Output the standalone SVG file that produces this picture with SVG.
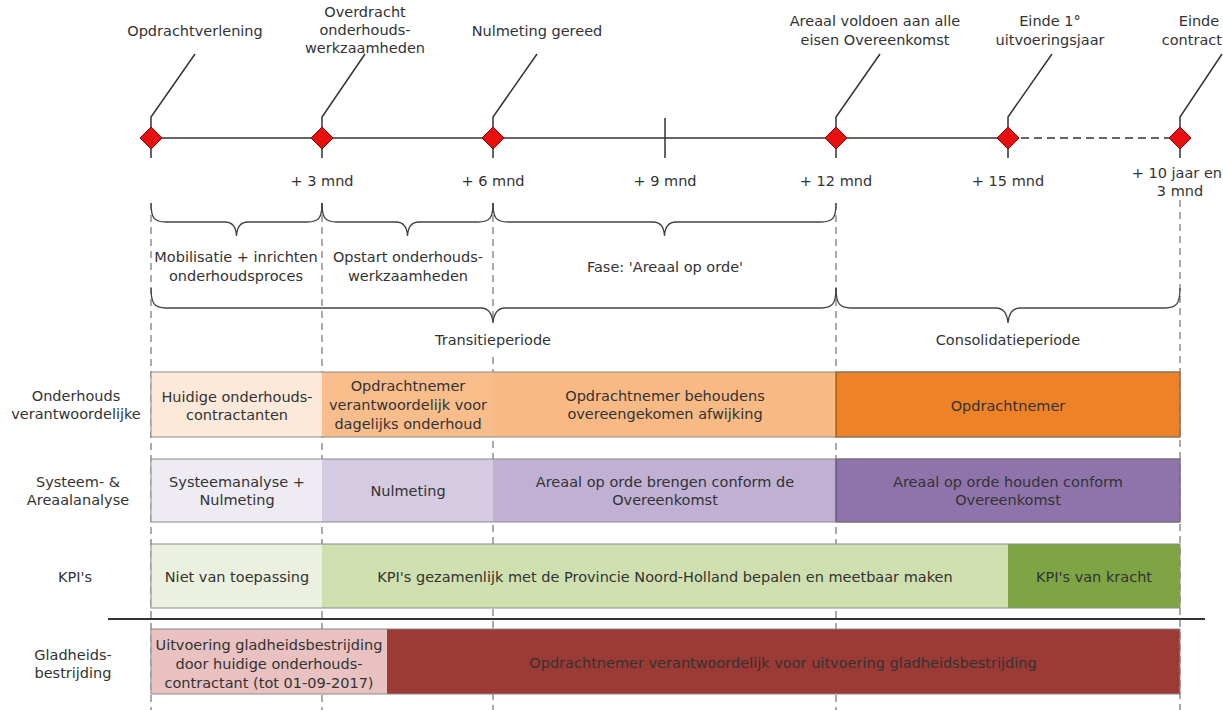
<svg xmlns="http://www.w3.org/2000/svg" width="1223" height="710" viewBox="0 0 1223 710">
<style>
text{font-family:"DejaVu Sans","Noto Sans",sans-serif;font-size:14.5px;fill:#333;text-anchor:middle}
.ln{stroke:#333;stroke-width:1.5;fill:none}
.br{stroke:#444;stroke-width:1.3;fill:none}
.dv{stroke:#555;stroke-width:1;stroke-dasharray:7 5;fill:none}
.dm{fill:#e8100e;stroke:#8a0000;stroke-width:1}
.row{fill:none;stroke:#8a8a8a;stroke-width:1}
</style>
<rect width="1223" height="710" fill="#fff"/>
<g id="connectors">
<path class="dv" d="M151,203V710M322,203V710M493,203V323M493,357V710M836,203V710M1180,200V710"/>
<path class="ln" d="M151,138H1008"/>
<path class="ln" d="M1008,138H1180" stroke-dasharray="8 5"/>
<path class="ln" d="M665,118V158"/>
<path class="ln" d="M151,128V117L195,54M322,128V117L365,54M493,128V117L537,54M836,128V117L880,54M1008,128V117L1052,54M1180,128V117L1222,54"/>
<path class="ln" d="M151,148V158M322,148V158M493,148V158M836,148V158M1008,148V158M1180,148V158"/>
</g>
<g id="milestones">
<path class="dm" d="M151,127L162,138L151,149L140,138Z"/>
<path class="dm" d="M322,127L333,138L322,149L311,138Z"/>
<path class="dm" d="M493,127L504,138L493,149L482,138Z"/>
<path class="dm" d="M836,127L847,138L836,149L825,138Z"/>
<path class="dm" d="M1008,127L1019,138L1008,149L997,138Z"/>
<path class="dm" d="M1180,127L1191,138L1180,149L1169,138Z"/>
</g>
<g id="milestone-labels">
<text x="195" y="36">Opdrachtverlening</text>
<text x="365" y="17">Overdracht</text>
<text x="365" y="35">onderhouds-</text>
<text x="365" y="53">werkzaamheden</text>
<text x="537" y="36">Nulmeting gereed</text>
<text x="875" y="26">Areaal voldoen aan alle</text>
<text x="875" y="45">eisen Overeenkomst</text>
<text x="1050" y="26">Einde 1°</text>
<text x="1050" y="45">uitvoeringsjaar</text>
<text x="1199" y="26">Einde</text>
<text x="1222" y="45" style="text-anchor:end">contract</text>
</g>
<g id="month-labels">
<text x="322" y="186">+ 3 mnd</text>
<text x="493" y="186">+ 6 mnd</text>
<text x="665" y="186">+ 9 mnd</text>
<text x="836" y="186">+ 12 mnd</text>
<text x="1008" y="186">+ 15 mnd</text>
<text x="1222" y="178" style="text-anchor:end">+ 10 jaar en</text>
<text x="1180" y="196">3 mnd</text>
</g>
<g id="braces">
<path class="br" d="M151,203C151,218 154,222 166,222L225,222C232,222 236,226 236.5,236C237,226 241,222 248,222L307,222C319,222 322,218 322,203"/>
<path class="br" d="M322,203C322,218 325,222 337,222L396,222C403,222 407,226 407.5,236C408,226 412,222 419,222L478,222C490,222 493,218 493,203"/>
<path class="br" d="M493,203C493,218 496,222 508,222L653,222C660,222 664,226 664.5,236C665,226 669,222 676,222L821,222C833,222 836,218 836,203"/>
<path class="br" d="M151,288C151,303 154,308 166,308L481,308C488,308 492,312 493,323C494,312 498,308 505,308L821,308C833,308 836,303 836,288"/>
<path class="br" d="M836,288C836,303 839,308 851,308L996,308C1003,308 1007,312 1008,323C1009,312 1013,308 1020,308L1165,308C1177,308 1180,303 1180,288"/>
</g>
<g id="brace-labels">
<text x="236" y="262">Mobilisatie + inrichten</text>
<text x="236" y="281">onderhoudsproces</text>
<text x="408" y="262">Opstart onderhouds-</text>
<text x="408" y="281">werkzaamheden</text>
<text x="665" y="272">Fase: 'Areaal op orde'</text>
<text x="493" y="345">Transitieperiode</text>
<text x="1008" y="345">Consolidatieperiode</text>
</g>
<g id="row-onderhoud">
<text x="76" y="401">Onderhouds</text>
<text x="76" y="419">verantwoordelijke</text>
<rect x="151" y="372" width="171" height="65" fill="#fde9d9"/>
<rect x="322" y="372" width="171" height="65" fill="#f9bd8c"/>
<rect x="493" y="372" width="343" height="65" fill="#f9b985"/>
<rect x="836" y="372" width="344" height="65" fill="#ee8226" stroke="#7a4310" stroke-width="1"/>
<rect class="row" x="151" y="372" width="1029" height="65"/>
<text x="237" y="402">Huidige onderhouds-</text>
<text x="237" y="420">contractanten</text>
<text x="408" y="391">Opdrachtnemer</text>
<text x="408" y="410">verantwoordelijk voor</text>
<text x="408" y="429">dagelijks onderhoud</text>
<text x="665" y="401">Opdrachtnemer behoudens</text>
<text x="665" y="419">overeengekomen afwijking</text>
<text x="1008" y="411">Opdrachtnemer</text>
</g>
<g id="row-systeem">
<text x="78" y="487">Systeem- &amp;</text>
<text x="78" y="505">Areaalanalyse</text>
<rect x="151" y="459" width="171" height="63" fill="#eeebf3"/>
<rect x="322" y="459" width="171" height="63" fill="#d4cae1"/>
<rect x="493" y="459" width="343" height="63" fill="#c0b0d3"/>
<rect x="836" y="459" width="344" height="63" fill="#8f74ab" stroke="#4d3a63" stroke-width="1"/>
<rect class="row" x="151" y="459" width="1029" height="63"/>
<text x="237" y="487">Systeemanalyse +</text>
<text x="237" y="505">Nulmeting</text>
<text x="408" y="496">Nulmeting</text>
<text x="665" y="487">Areaal op orde brengen conform de</text>
<text x="665" y="505">Overeenkomst</text>
<text x="1008" y="487">Areaal op orde houden conform</text>
<text x="1008" y="505">Overeenkomst</text>
</g>
<g id="row-kpi">
<text x="75" y="582">KPI's</text>
<rect x="151" y="544" width="171" height="64" fill="#ebf1de"/>
<rect x="322" y="544" width="686" height="64" fill="#cfdfb0"/>
<rect x="1008" y="544" width="172" height="64" fill="#7ea444"/>
<rect class="row" x="151" y="544" width="1029" height="64"/>
<text x="237" y="582">Niet van toepassing</text>
<text x="665" y="582">KPI's gezamenlijk met de Provincie Noord-Holland bepalen en meetbaar maken</text>
<text x="1094" y="582">KPI's van kracht</text>
</g>
<g id="separator">
<path d="M108,619H1205" stroke="#333" stroke-width="2"/>
</g>
<g id="row-gladheid">
<text x="73" y="660">Gladheids-</text>
<text x="73" y="678">bestrijding</text>
<rect x="151" y="629" width="236" height="65" fill="#e8c1c0"/>
<rect x="387" y="629" width="793" height="65" fill="#9c3a35"/>
<rect class="row" x="151" y="629" width="1029" height="65"/>
<text x="269" y="650">Uitvoering gladheidsbestrijding</text>
<text x="269" y="669">door huidige onderhouds-</text>
<text x="269" y="688">contractant (tot 01-09-2017)</text>
<text x="783" y="668">Opdrachtnemer verantwoordelijk voor uitvoering gladheidsbestrijding</text>
</g>
</svg>
